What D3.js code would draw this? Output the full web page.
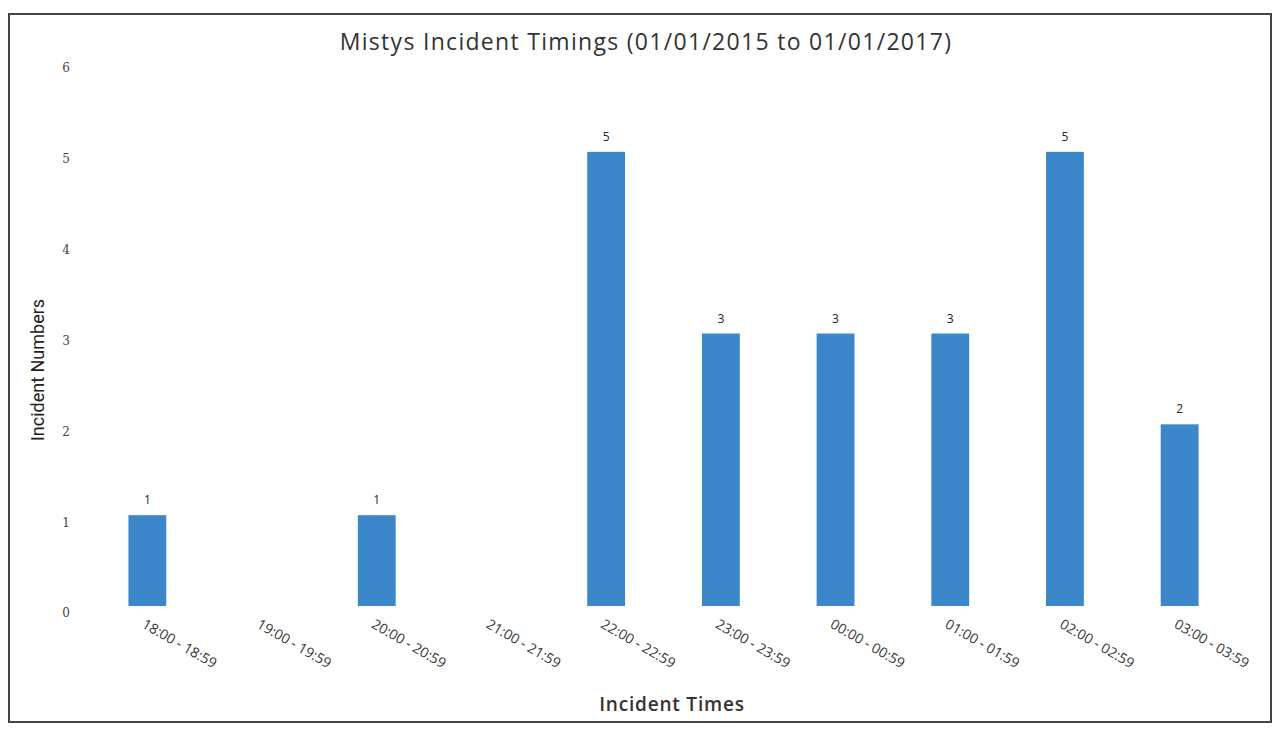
<!DOCTYPE html>
<html>
<head>
<meta charset="utf-8">
<script src="https://cdn.jsdelivr.net/npm/d3@7"></script>
<style>
  body { margin: 0; background: #fff; }
  text { font-family: "Open Sans", "Liberation Sans", sans-serif; }
</style>
</head>
<body>
<svg id="chart"></svg>
<script>
// data
let horas = ["18:00 - 18:59", "19:00 - 19:59", "20:00 - 20:59", "21:00 - 21:59", "22:00 - 22:59",
             "23:00 - 23:59", "00:00 - 00:59", "01:00 - 01:59", "02:00 - 02:59", "03:00 - 03:59"];
let incidentes = [1, null, 1, null, 5, 3, 3, 3, 5, 2];
let ticksY = [0, 1, 2, 3, 4, 5, 6];

let W = 1276, H = 729;

let misvg = d3.select("#chart")
  .attr("width", W)
  .attr("height", H);

// marco
misvg.append("rect")
  .attr("x", 9).attr("y", 14)
  .attr("width", 1262).attr("height", 708)
  .attr("fill", "none")
  .attr("stroke", "#444")
  .attr("stroke-width", 2);

let x = d3.scaleBand()
  .domain(horas)
  .range([90, 1237])
  .paddingInner(0.67)
  .paddingOuter(0.335);

let y = d3.scaleLinear()
  .domain([0, 6])
  .range([606, 61]);

// titulo
misvg.append("text")
  .attr("x", 646).attr("y", 50)
  .attr("text-anchor", "middle")
  .attr("font-size", 23)
  .attr("letter-spacing", 1.3)
  .attr("fill", "#333")
  .text("Mistys Incident Timings (01/01/2015 to 01/01/2017)");

// eje y (solo etiquetas)
let ejeY = misvg.append("g")
  .attr("transform", "translate(70,7)")
  .call(d3.axisLeft(y).tickValues(ticksY).tickFormat(d3.format("d")).tickSize(0).tickPadding(0));
ejeY.select(".domain").remove();
ejeY.selectAll("text")
  .attr("font-size", 12)
  .attr("fill", "#444")
  .style("font-family", "'DejaVu Serif', serif");

// eje x
let ejeX = misvg.append("g")
  .attr("transform", "translate(0,616)")
  .call(d3.axisBottom(x).tickSize(0).tickPadding(0));
ejeX.select(".domain").remove();
ejeX.selectAll("text")
  .attr("font-size", 14)
  .attr("fill", "#333")
  .attr("text-anchor", "start")
  .attr("dy", "0.9em")
  .attr("transform", "rotate(30)");

// barras
let datos = incidentes.map((d, i) => ({ hora: horas[i], valor: d })).filter(d => d.valor != null);

misvg.selectAll("rect.barra")
  .data(datos)
  .enter()
  .append("rect")
  .attr("class", "barra")
  .attr("x", d => x(d.hora))
  .attr("y", d => y(d.valor))
  .attr("width", x.bandwidth())
  .attr("height", d => y(0) - y(d.valor))
  .attr("fill", "#3b87c9");

// etiquetas de datos
misvg.selectAll("text.etiqueta")
  .data(datos)
  .enter()
  .append("text")
  .attr("class", "etiqueta")
  .attr("x", d => x(d.hora) + x.bandwidth() / 2)
  .attr("y", d => y(d.valor) - 11)
  .attr("text-anchor", "middle")
  .attr("font-size", 12)
  .attr("fill", "#222")
  .text(d => d.valor);

// titulos de ejes
misvg.append("text")
  .attr("transform", "translate(44,370) rotate(-90)")
  .attr("text-anchor", "middle")
  .attr("font-size", 18)
  .attr("fill", "#222")
  .style("font-family", "'Liberation Sans Narrow', 'Roboto', sans-serif")
  .text("Incident Numbers");

misvg.append("text")
  .attr("x", 672).attr("y", 711)
  .attr("text-anchor", "middle")
  .attr("font-size", 19)
  .attr("letter-spacing", 0.8)
  .attr("font-weight", 600)
  .attr("fill", "#333")
  .text("Incident Times");
</script>
</body>
</html>
